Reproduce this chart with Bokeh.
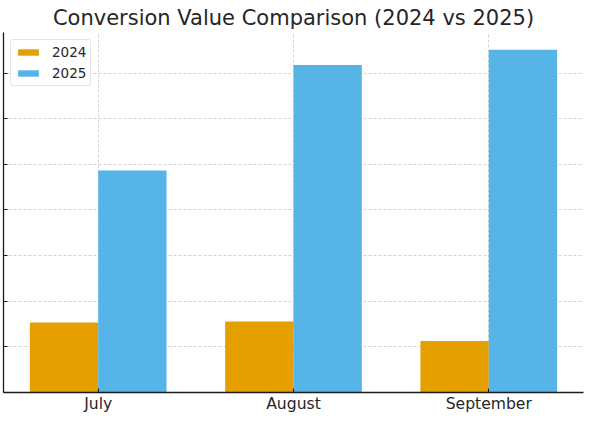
import numpy as np
from bokeh.plotting import figure
from bokeh.models import Range1d, FixedTicker, Legend, LegendItem, ColumnDataSource
from bokeh.embed import file_html
from bokeh.resources import INLINE

months = ["July", "August", "September"]
values_2024 = [1536, 1558, 1126]
values_2025 = [4863, 7180, 7510]
y_ticks = [0, 1000, 2000, 3000, 4000, 5000, 6000, 7000]

bar_width = 0.35
idx = np.arange(len(months))

p = figure(width=584, height=418, output_backend="svg", toolbar_location=None,
           x_range=Range1d(-0.485, 2.485), y_range=Range1d(0, 7890),
           min_border_left=3, min_border_right=1, min_border_top=32, min_border_bottom=26)

p.title.text = "Conversion Value Comparison (2024 vs 2025)"
p.title.align = "center"
p.title.text_font = "DejaVu Sans"
p.title.text_font_size = "21px"
p.title.text_font_style = "normal"
p.title.text_color = "#262626"
p.title.standoff = 6
p.outline_line_color = None
p.background_fill_color = "white"
p.border_fill_color = "white"

src24 = ColumnDataSource(dict(x=idx - bar_width / 2, top=values_2024))
src25 = ColumnDataSource(dict(x=idx + bar_width / 2, top=values_2025))
r24 = p.vbar(x="x", top="top", width=bar_width, bottom=0, source=src24,
             fill_color="#E69F00", line_color=None)
r25 = p.vbar(x="x", top="top", width=bar_width, bottom=0, source=src25,
             fill_color="#56B4E9", line_color=None)

# axes
p.xaxis.ticker = FixedTicker(ticks=list(idx))
p.xaxis.major_label_overrides = {int(i): m for i, m in zip(idx, months)}
p.xaxis.major_label_text_font = "DejaVu Sans"
p.xaxis.major_label_text_font_size = "15.6px"
p.xaxis.major_label_text_color = "#262626"
p.xaxis.major_label_standoff = 2
p.yaxis.ticker = FixedTicker(ticks=y_ticks)
p.yaxis.major_label_overrides = {t: "" for t in y_ticks}
p.yaxis.major_label_standoff = 0
for ax in (p.xaxis[0], p.yaxis[0]):
    ax.axis_line_color = "#1a1a1a"
    ax.axis_line_width = 1.3
    ax.major_tick_in = 4
    ax.major_tick_out = 0
    ax.major_tick_line_color = "#1a1a1a"
    ax.minor_tick_line_color = None

for g in (p.xgrid[0], p.ygrid[0]):
    g.grid_line_color = "#b0b0b0"
    g.grid_line_alpha = 0.7
    g.grid_line_dash = "3 2"
    g.grid_line_width = 0.8
p.xgrid.ticker = FixedTicker(ticks=list(idx))
p.ygrid.ticker = FixedTicker(ticks=y_ticks)

legend = Legend(items=[LegendItem(label="2024", renderers=[r24]),
                       LegendItem(label="2025", renderers=[r25])],
                location="top_left")
legend.margin = 7
legend.padding = 4
legend.spacing = 5
legend.glyph_width = 26
legend.glyph_height = 8
legend.label_height = 14
legend.label_standoff = 11
legend.label_text_font = "DejaVu Sans"
legend.label_text_font_size = "13.5px"
legend.label_text_color = "#262626"
legend.border_line_color = "#cccccc"
legend.border_line_width = 1
legend.border_radius = 3
legend.background_fill_alpha = 0.8
p.add_layout(legend)

open("out.html", "w").write(file_html(p, INLINE))
